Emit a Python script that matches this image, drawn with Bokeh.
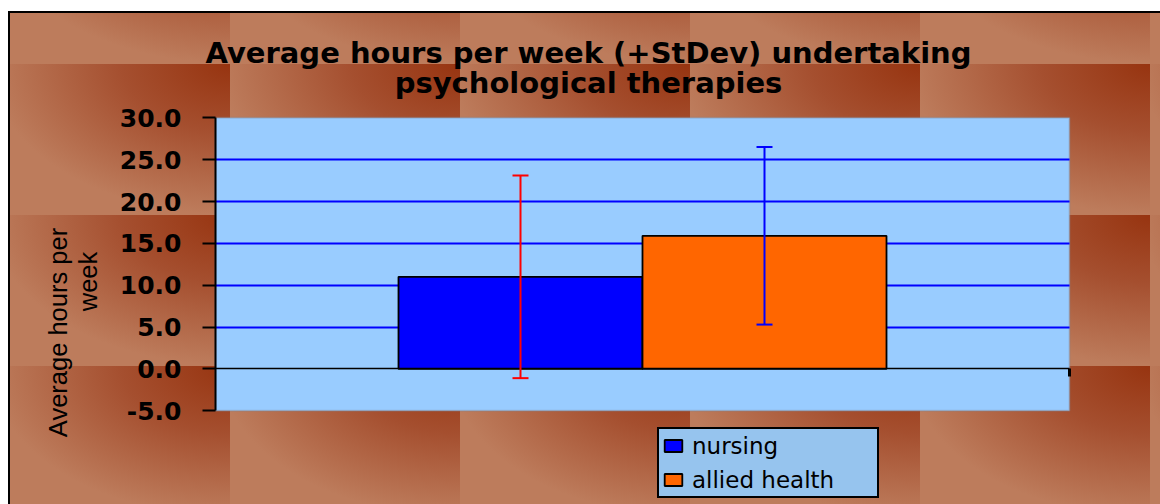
import math
from bokeh.plotting import figure
from bokeh.models import (ColumnDataSource, Range1d, LinearAxis, FixedTicker, Grid,
                          NumeralTickFormatter, Whisker, TeeHead, Label, BoxAnnotation)
from bokeh.core.properties import value
from bokeh.embed import file_html
from bokeh.resources import INLINE

# ---- data ----
title_lines = ["Average hours per week (+StDev) undertaking", "psychological therapies"]
ylabel_lines = ["Average hours per", "week"]
groups = ["nursing", "allied health"]
means = [11.0, 15.9]
stdevs = [12.1, 10.6]
bar_colors = ["#0000FF", "#FF6600"]
err_colors = ["#FF0000", "#0000FF"]
y_ticks = [-5, 0, 5, 10, 15, 20, 25, 30]
grid_ticks = [5, 10, 15, 20, 25]
y_min, y_max = -5, 30

# ---- layout (pixels) ----
W, H = 1160, 504
PL, PR, PT, PB = 215.0, 1069.0, 117.3, 410.3     # plot-area edges on the canvas
gap = 0.75                                        # half of Excel's 150% gap width
n = len(groups)
x_end = 2 * gap + n
xs = [gap + i + 0.5 for i in range(n)]

kx = (PR - PL) / x_end
ky = (PB - PT) / (y_max - y_min)
x_range = Range1d(-PL / kx, x_end + (W - PR) / kx)
y_range = Range1d(y_min - (H - PB) / ky, y_max + PT / ky)

src = ColumnDataSource(dict(x=xs, mean=means, group=groups, color=bar_colors))

p = figure(width=W, height=H, x_range=x_range, y_range=y_range, title=None,
           x_axis_location=None, y_axis_location=None, toolbar_location=None,
           output_backend="svg", min_border=0,
           background_fill_color=None, border_fill_color=None, outline_line_color=None)
p.min_border_left = p.min_border_right = p.min_border_top = p.min_border_bottom = 0

# hide default grids
for r in list(p.center):
    if isinstance(r, Grid):
        r.visible = False

p.styles = {
    "background-image": ("linear-gradient(#ffffff,#ffffff), linear-gradient(#ffffff,#ffffff), "
                         "linear-gradient(#000000,#000000), linear-gradient(#000000,#000000), "
                         "radial-gradient(240px 150px at 100% 0%, #973410 0%, #a54f2f 45%, #bd7c5c 100%)"),
    "background-size": "8px 100%, 100% 11px, 100% 2px, 2px 100%, 230px 151px",
    "background-position": "0 0, 0 0, 8px 11px, 8px 11px, 0 64px",
    "background-repeat": "no-repeat, no-repeat, no-repeat, no-repeat, repeat",
}

# pixel-coordinate helper ranges for text placement (frame == whole canvas)
p.extra_x_ranges = {"px": Range1d(0, W)}
p.extra_y_ranges = {"px": Range1d(H, 0)}

# plot area
p.add_layout(BoxAnnotation(left=0, right=x_end, bottom=y_min, top=y_max,
                           fill_color="#99CCFF", fill_alpha=1,
                           line_color="#7F8795", line_width=2, level="image"))

# grid lines (only across the plot area)
if "cross_bounds" in Grid.properties():
    g = Grid(dimension=1, ticker=FixedTicker(ticks=grid_ticks), cross_bounds=(0, x_end),
             grid_line_color="#0000FF", grid_line_width=2)
    p.add_layout(g)
else:
    p.segment(x0=[0] * len(grid_ticks), x1=[x_end] * len(grid_ticks), y0=grid_ticks,
              y1=grid_ticks, line_color="#0000FF", line_width=2, level="underlay")

# bars
p.vbar(x="x", top="mean", bottom=0, width=1.0, source=src, fill_color="color",
       line_color="black", line_width=1.8, legend_field="group")

# error bars
for i in range(n):
    s = ColumnDataSource(dict(x=[xs[i]], upper=[means[i] + stdevs[i]], lower=[means[i] - stdevs[i]]))
    w = Whisker(base="x", upper="upper", lower="lower", source=s, dimension="height",
                line_color=err_colors[i], line_width=2, level="annotation",
                upper_head=TeeHead(size=16, line_color=err_colors[i], line_width=2),
                lower_head=TeeHead(size=16, line_color=err_colors[i], line_width=2))
    p.add_layout(w)

# value axis
ya = LinearAxis(fixed_location=0, bounds=(y_min, y_max), ticker=FixedTicker(ticks=y_ticks),
                formatter=NumeralTickFormatter(format="0.0"),
                major_label_text_font="DejaVu Sans", major_label_text_font_style="bold",
                major_label_text_font_size="25px", major_label_text_color="black",
                major_tick_out=13, major_tick_in=0, minor_tick_out=0, minor_tick_in=0,
                axis_line_width=2, axis_line_color="black",
                major_tick_line_width=2, major_tick_line_color="black",
                major_label_standoff=21)
p.add_layout(ya, "left")

# category axis crossing at zero (tick mark at its right end, no labels)
xa = LinearAxis(fixed_location=0, bounds=(0, x_end), ticker=FixedTicker(ticks=[x_end]),
                major_tick_in=0, major_tick_out=8, minor_tick_in=0, minor_tick_out=0,
                major_tick_line_width=3, major_tick_line_color="black",
                major_label_text_color=None,
                axis_line_color="black", axis_line_width=1.5)
p.add_layout(xa, "below")

# title
for txt, yy in zip(title_lines, [52, 82]):
    p.add_layout(Label(x=588, y=yy, text=txt, text_align="center", text_baseline="alphabetic",
                       text_font="DejaVu Sans", text_font_style="bold", text_font_size="29px",
                       text_color="black", x_range_name="px", y_range_name="px"))

# y-axis title (rotated, two lines)
for txt, xx, yy in zip(ylabel_lines, [57, 87], [332, 281]):
    p.add_layout(Label(x=xx, y=yy, text=txt, angle=math.pi / 2, text_align="center",
                       text_baseline="alphabetic", text_font="Liberation Sans",
                       text_font_size="25.5px", text_color="black",
                       x_range_name="px", y_range_name="px"))

# legend
lg = p.legend[0]
lg.location = (657, 6)
lg.orientation = "vertical"
lg.border_line_color = "black"
lg.border_line_alpha = 1
lg.border_line_width = 2
lg.background_fill_color = "#96C4EE"
lg.background_fill_alpha = 1
lg.label_text_font = "DejaVu Sans"
lg.label_text_font_size = "23px"
lg.label_text_color = "black"
lg.glyph_width = 22
lg.glyph_height = 15
lg.label_standoff = 8
lg.padding = 3
lg.spacing = 7
lg.label_width = 182
lg.label_height = 27
lg.margin = 0

open("out.html", "w").write(file_html(p, INLINE))
